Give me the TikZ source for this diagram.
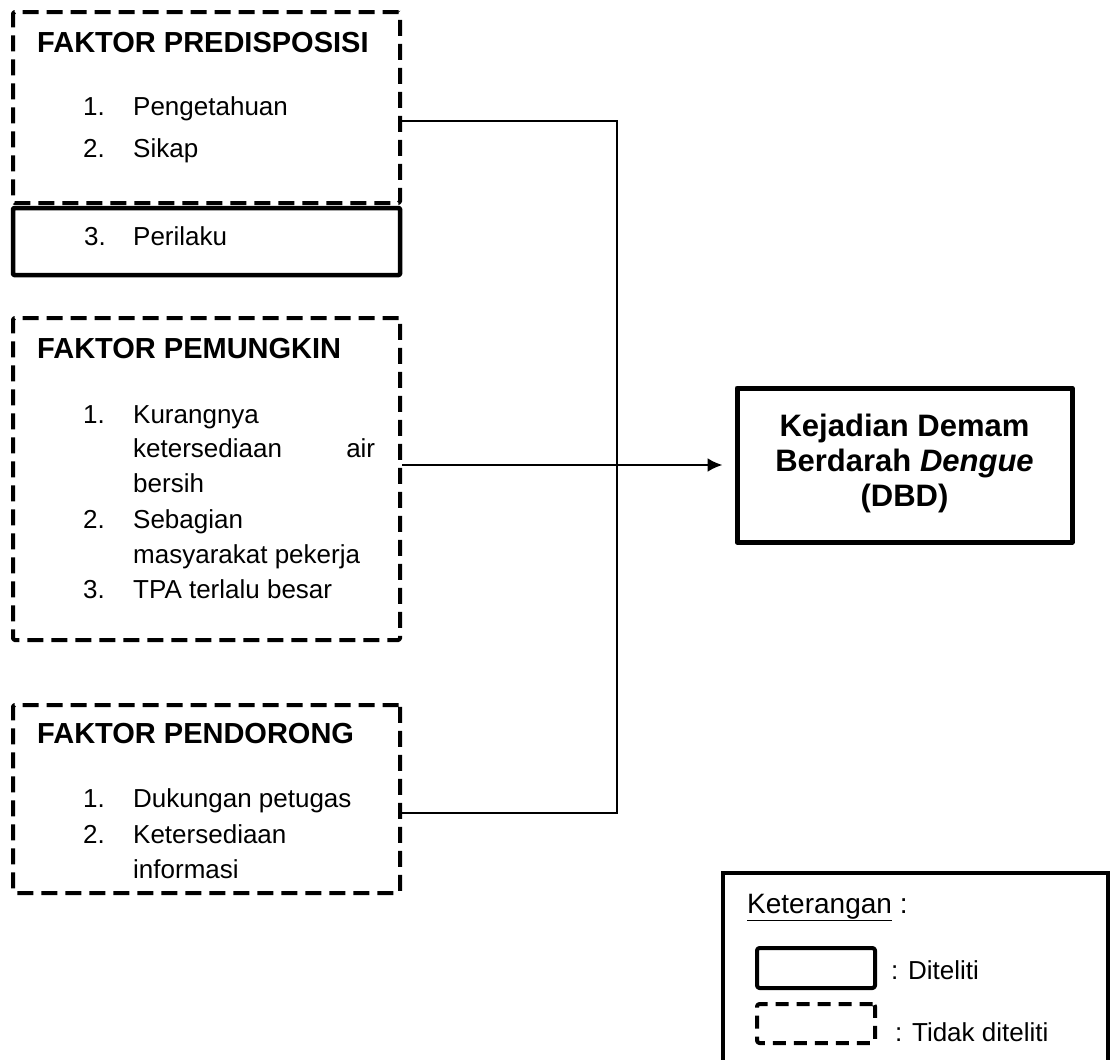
\documentclass[tikz,border=0pt]{standalone}
\usepackage{fontspec}
\setmainfont{Liberation Sans}
\usetikzlibrary{arrows.meta}
\newcommand\bodyf{\fontsize{26}{35}\selectfont}
\newcommand\headf{\fontsize{29}{35}\selectfont\bfseries}
\newcommand\mainf{\fontsize{31}{35}\selectfont\bfseries}
\newcommand\kettf{\fontsize{28}{35}\selectfont}
\begin{document}
\begin{tikzpicture}[x=1pt,y=-1pt,
  dbox/.style={draw, line width=4pt, dash pattern=on 16pt off 8pt, line join=round, rounded corners=1.5pt, inner sep=0pt},
  sbox/.style={draw, line width=4.5pt, line join=round, rounded corners=1pt, inner sep=0pt},
  conn/.style={line width=2pt},
  txt/.style={inner sep=0pt, anchor=base west, font=\bodyf},
  head/.style={inner sep=0pt, anchor=base west, font=\headf}]
\useasboundingbox[fill=white] (0,0) rectangle (1112,1060);

% Box 1
\node[dbox, minimum width=387pt, minimum height=191pt] (b1) at (206.5,107.5) {};
\node[sbox, minimum width=387pt, minimum height=67pt] (b1s) at (206.5,241.5) {};
\node[head] (h1) at (37,52) {FAKTOR PREDISPOSISI};
\node[txt] (n11) at (83,115) {1.};
\node[txt] (t11) at (133,115) {Pengetahuan};
\node[txt] (n12) at (83,157) {2.};
\node[txt] (t12) at (133,157) {Sikap};
\node[txt] (n13) at (84,245) {3.};
\node[txt] (t13) at (133,245) {Perilaku};

% Box 2
\node[dbox, minimum width=387pt, minimum height=322pt] (b2) at (206.5,479) {};
\node[head] (h2) at (37,358) {FAKTOR PEMUNGKIN};
\node[txt] (n21) at (83,423) {1.};
\node[txt] (t21) at (133,423) {Kurangnya};
\node[txt] (t21b) at (133,457) {\makebox[242pt][s]{ketersediaan air}};
\node[txt] (t21c) at (133,492) {bersih};
\node[txt] (n22) at (83,528) {2.};
\node[txt] (t22) at (133,528) {Sebagian};
\node[txt] (t22b) at (133,563) {masyarakat pekerja};
\node[txt] (n23) at (83,598) {3.};
\node[txt] (t23) at (133,598) {TPA terlalu besar};

% Box 3
\node[dbox, minimum width=387pt, minimum height=188pt] (b3) at (206.5,799) {};
\node[head] (h3) at (37,743) {FAKTOR PENDORONG};
\node[txt] (n31) at (83,807) {1.};
\node[txt] (t31) at (133,807) {Dukungan petugas};
\node[txt] (n32) at (83,843) {2.};
\node[txt] (t32) at (133,843) {Ketersediaan};
\node[txt] (t32b) at (133,878) {informasi};

% Main box
\node[draw, line width=5pt, line join=round, minimum width=335pt, minimum height=154pt, inner sep=0pt] (main) at (904.5,465) {};
\node[inner sep=0pt, align=center, font=\mainf] (maint) at (904.5,463) {Kejadian Demam\\Berdarah \textit{Dengue}\\(DBD)};

% Connectors
\coordinate (j1) at (617,121);
\coordinate (j3) at (617,813);
\draw[conn, line join=miter] (b1.east |- j1) -- (j1) -- (j3) -- (b3.east |- j3);
\draw[line width=2.4pt, -{Latex[length=15pt,width=14pt]}, shorten >=12pt] (b2.east |- main.west) -- (main.west);

% Legend
\node[draw, line width=4pt, minimum width=385pt, minimum height=210pt, inner sep=0pt] (leg) at (915.5,978) {};
\node[inner sep=0pt, anchor=base west, font=\kettf] (ket) at (747,913) {\underline{Keterangan}~:};
\node[sbox, line width=4pt, rounded corners=2.5pt, minimum width=118pt, minimum height=40pt] (ls) at (816,968) {};
\node[dbox, dash pattern=on 13pt off 8pt, rounded corners=2.5pt, minimum width=118pt, minimum height=39pt] (ld) at (816,1023.5) {};
\node[txt] (lt1) at (891,979) {: Diteliti};
\node[txt] (lt2) at (895,1041) {: Tidak diteliti};
\end{tikzpicture}
\end{document}
